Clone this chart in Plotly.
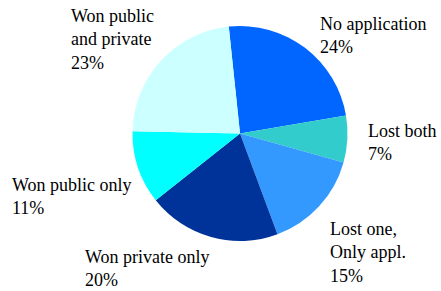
import plotly.graph_objects as go

labels = ["No application", "Lost both", "Lost one,<br>Only appl.", "Won private only", "Won public only", "Won public<br>and private"]
values = [24, 7, 15, 20, 11, 23]
colors = ["#0066FF", "#33CCCC", "#3399FF", "#003399", "#00FFFF", "#CCFFFF"]
# label block positions (left x px, center y px)
label_x = [320, 368, 330, 85, 12, 71]
label_y = [35, 142.5, 252.5, 268.5, 196.5, 40]

W, H = 441, 291
cx, cy, r = 240, 133.5, 107.5

fig = go.Figure(go.Pie(
    labels=labels, values=values, sort=False, direction="clockwise",
    rotation=-6, marker=dict(colors=colors, line=dict(width=0)),
    textinfo="none", hoverinfo="label+percent", showlegend=False,
    domain=dict(x=[(cx - r) / W, (cx + r) / W], y=[1 - (cy + r) / H, 1 - (cy - r) / H]),
))

total = sum(values)
for lab, v, lx, ly in zip(labels, values, label_x, label_y):
    fig.add_annotation(
        text=f"{lab}<br>{round(100 * v / total)}%", x=(lx - 2) / W, y=1 - ly / H,
        xref="paper", yref="paper", xanchor="left", yanchor="middle",
        align="left", showarrow=False,
        font=dict(family="Liberation Serif, Times New Roman, serif", size=18, color="black"),
    )

fig.update_layout(
    width=W, height=H, margin=dict(l=0, r=0, t=0, b=0),
    paper_bgcolor="white", plot_bgcolor="white",
)
fig.write_html("out.html", config={"displayModeBar": False},
               post_script="document.body.style.margin='0';document.body.style.overflow='hidden';")
